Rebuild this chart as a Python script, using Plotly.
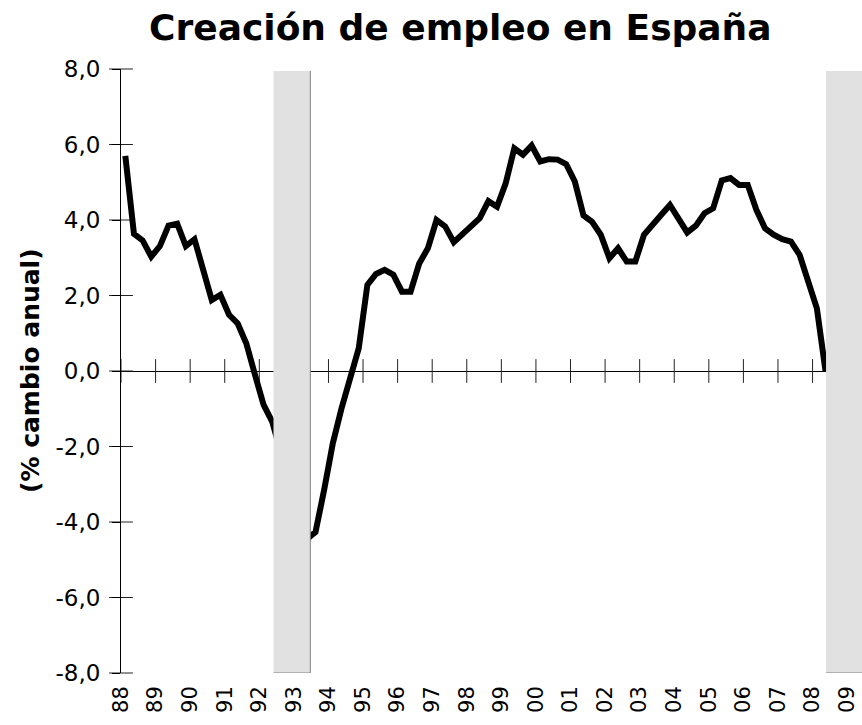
import plotly.graph_objects as go

# Quarterly year-on-year employment change (%), 1988Q1 .. 2008Q2
start_year = 1988
employment_change = [
    5.70, 3.63, 3.46, 3.03, 3.31, 3.85, 3.90, 3.31,
    3.49, 2.70, 1.88, 2.02, 1.49, 1.26, 0.73, -0.10,
    -0.90, -1.35, -2.20, -3.00, -3.80, -4.45, -4.27, -3.15,
    -1.92, -1.00, -0.15, 0.60, 2.28, 2.57, 2.68, 2.55,
    2.10, 2.10, 2.85, 3.25, 4.00, 3.83, 3.41, 3.61,
    3.85, 4.05, 4.50, 4.35, 4.97, 5.90, 5.73, 5.97,
    5.55, 5.61, 5.60, 5.48, 5.02, 4.12, 3.95, 3.61,
    2.99, 3.25, 2.90, 2.90, 3.61, 3.85, 4.14, 4.40,
    4.00, 3.67, 3.85, 4.18, 4.31, 5.05, 5.11, 4.93,
    4.93, 4.27, 3.78, 3.61, 3.49, 3.43, 3.08, 2.37,
    1.66, 0.00,
]
tick_years = list(range(1988, 2010))
tick_labels = ["88", "89", "90", "91", "92", "93", "94", "95", "96", "97", "98",
               "99", "00", "01", "02", "03", "04", "05", "06", "07", "08", "09"]
y_ticks = [-8, -6, -4, -2, 0, 2, 4, 6, 8]
y_tick_labels = ["-8,0", "-6,0", "-4,0", "-2,0", "0,0", "2,0", "4,0", "6,0", "8,0"]
# recession bands (fractional years)
recessions = [(1992.41, 1993.475), (2008.39, 2009.6)]
x_range = [1988, 2009.43]

# quarter mid-points
x_vals = [start_year + (i + 0.5) / 4 for i in range(len(employment_change))]

FONT = "DejaVu Sans, Liberation Sans, Arial, sans-serif"

fig = go.Figure()

# cross tick marks on the zero line
fig.add_trace(go.Scatter(
    x=tick_years, y=[0] * len(tick_years), mode="markers",
    marker=dict(symbol="line-ns", size=17, line=dict(color="#222", width=1)),
    hoverinfo="skip", showlegend=False, cliponaxis=False))
# cross tick marks on the y axis
fig.add_trace(go.Scatter(
    x=[x_range[0]] * len(y_ticks), y=y_ticks, mode="markers",
    marker=dict(symbol="line-ew", size=17, line=dict(color="#222", width=1)),
    hoverinfo="skip", showlegend=False, cliponaxis=False))

fig.add_trace(go.Scatter(
    x=x_vals, y=employment_change, mode="lines",
    line=dict(color="black", width=6, shape="linear"),
    showlegend=False))

for x0, x1 in recessions:
    fig.add_shape(type="rect", xref="x", yref="y", x0=x0, x1=x1, y0=-8, y1=7.95,
                  fillcolor="#e1e1e1", line=dict(width=0), layer="above")
    fig.add_shape(type="line", xref="x", yref="y", x0=x1, x1=x1, y0=-8, y1=7.95,
                  line=dict(color="#808080", width=1), layer="above")
    fig.add_shape(type="line", xref="x", yref="y", x0=x0, x1=x1, y0=-8, y1=-8,
                  line=dict(color="#808080", width=1), layer="above")

fig.add_annotation(text="<b>(% cambio anual)</b>", textangle=-90,
                   xref="paper", yref="paper", x=-0.1228, y=0.5,
                   xanchor="center", yanchor="middle", showarrow=False,
                   font=dict(family=FONT, size=25, color="black"))

fig.update_layout(
    width=862, height=725,
    margin=dict(l=121, r=0, t=69, b=52),
    paper_bgcolor="white", plot_bgcolor="white",
    title=dict(text="<b>Creación de empleo en España</b>",
               font=dict(family=FONT, size=36, color="black"),
               x=0.534, xref="container", xanchor="center",
               y=0.962, yref="container", yanchor="middle"),
    xaxis=dict(range=x_range, tickmode="array", tickvals=tick_years,
               ticktext=tick_labels, tickangle=-90, showgrid=False,
               zeroline=False, showline=False, ticks="",
               ticklabelstandoff=8,
               tickfont=dict(family=FONT, size=21, color="black")),
    yaxis=dict(range=[-8, 8], tickmode="array", tickvals=y_ticks,
               ticktext=y_tick_labels, showgrid=False,
               zeroline=True, zerolinecolor="black", zerolinewidth=1,
               showline=True, linecolor="black", linewidth=1,
               ticks="outside", ticklen=8, tickcolor="black",
               ticklabelstandoff=7,
               tickfont=dict(family=FONT, size=23, color="black")),
)

fig.write_html("out.html",
               config={"displayModeBar": False},
               post_script="document.body.style.margin='0';"
                           "document.body.style.overflow='hidden';")
